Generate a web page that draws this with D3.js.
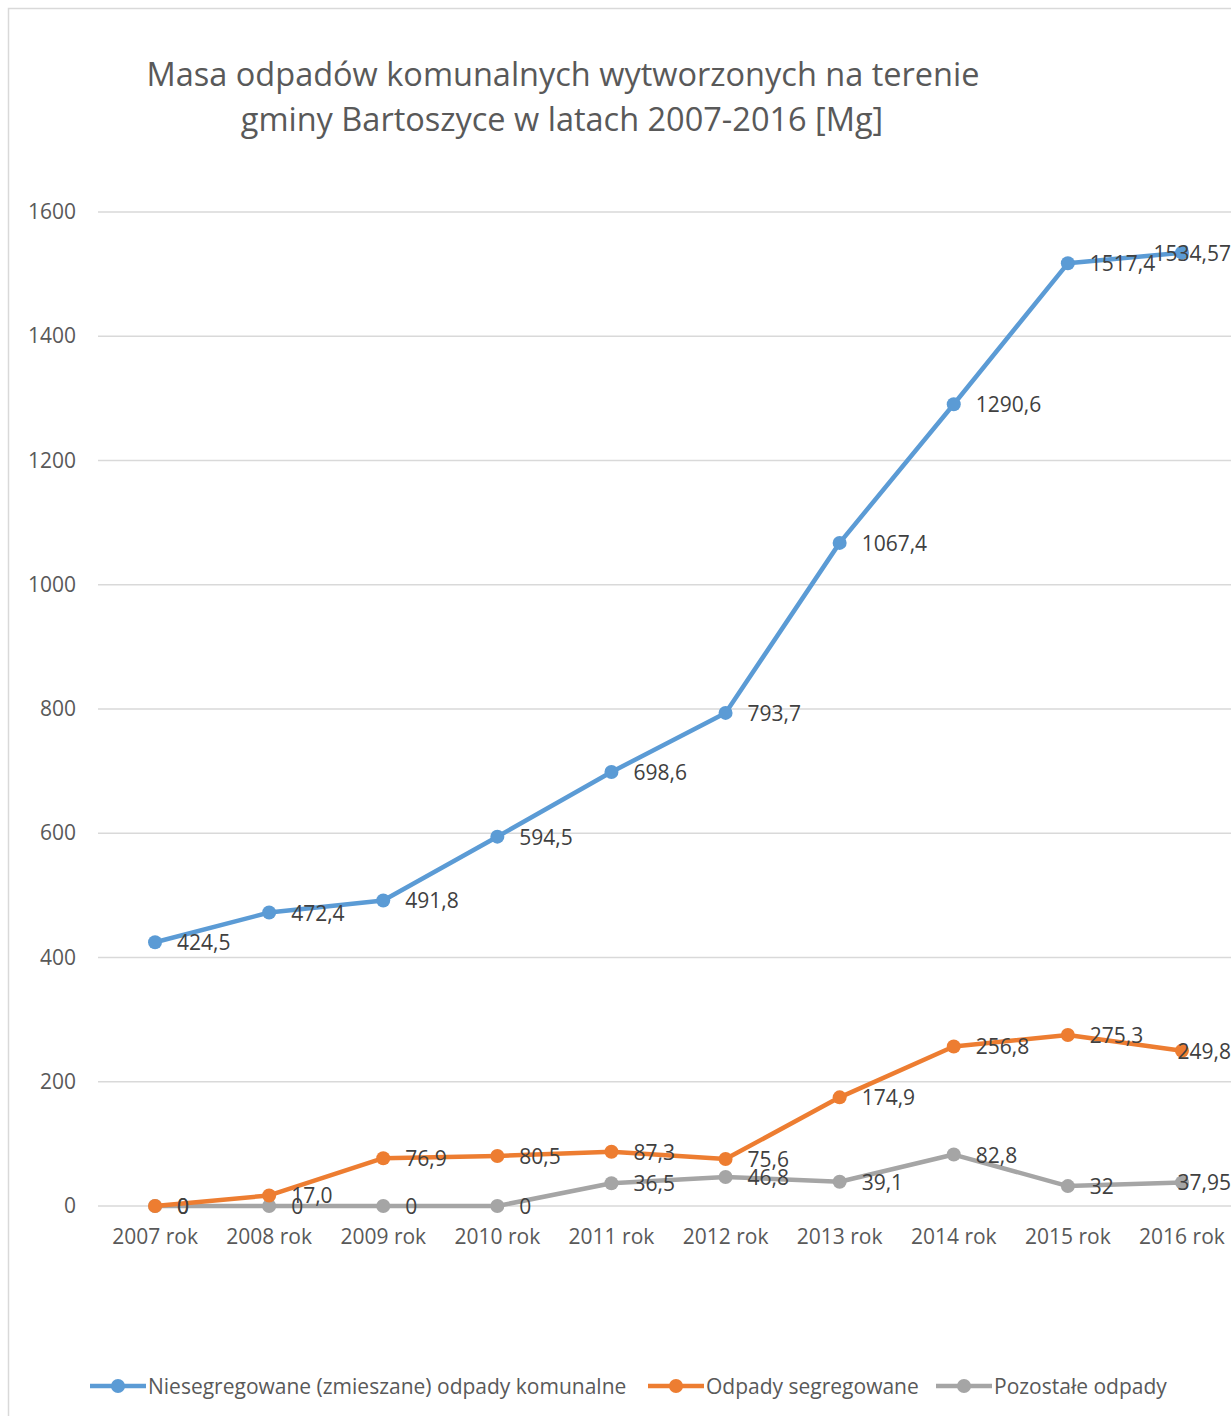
<!DOCTYPE html>
<html>
<head>
<meta charset="utf-8">
<script src="https://cdn.jsdelivr.net/npm/d3@7"></script>
<style>
  body { margin: 0; background: #fff; }
  svg { display: block; }
  text { font-family: "Open Sans", sans-serif; }
</style>
</head>
<body>
<svg></svg>
<script>
const width = 1231;
const height = 1416;

// data
const years = ["2007 rok", "2008 rok", "2009 rok", "2010 rok", "2011 rok",
               "2012 rok", "2013 rok", "2014 rok", "2015 rok", "2016 rok"];
const mixed = [424.5, 472.4, 491.8, 594.5, 698.6, 793.7, 1067.4, 1290.6, 1517.4, 1534.57];
const mixedLabels = ["424,5", "472,4", "491,8", "594,5", "698,6", "793,7", "1067,4", "1290,6", "1517,4", "1534,57"];
const sorted = [0, 17.0, 76.9, 80.5, 87.3, 75.6, 174.9, 256.8, 275.3, 249.8];
const sortedLabels = ["0", "17,0", "76,9", "80,5", "87,3", "75,6", "174,9", "256,8", "275,3", "249,8"];
const other = [0, 0, 0, 0, 36.5, 46.8, 39.1, 82.8, 32, 37.95];
const otherLabels = ["0", "0", "0", "0", "36,5", "46,8", "39,1", "82,8", "32", "37,95"];
const yTicks = [0, 200, 400, 600, 800, 1000, 1200, 1400, 1600];

const series = [
  { name: "Niesegregowane (zmieszane) odpady komunalne", values: mixed, labels: mixedLabels, color: "#5B9BD5" },
  { name: "Odpady segregowane", values: sorted, labels: sortedLabels, color: "#ED7D31" },
  { name: "Pozostałe odpady", values: other, labels: otherLabels, color: "#A5A5A5" }
];

const svg = d3.select("svg")
  .attr("width", width)
  .attr("height", height);

// chart border (picture is cropped at right)
svg.append("rect")
  .attr("x", 8.5).attr("y", 8.5)
  .attr("width", width + 20).attr("height", height + 20)
  .attr("fill", "#fff")
  .attr("stroke", "#d9d9d9")
  .attr("stroke-width", 1.5);

// title
const title = svg.append("text")
  .attr("text-anchor", "middle")
  .attr("fill", "#595959")
  .attr("font-size", "32.5px");
title.append("tspan").attr("x", 563).attr("y", 86).text("Masa odpadów komunalnych wytworzonych na terenie");
title.append("tspan").attr("x", 562).attr("y", 131).text("gminy Bartoszyce w latach 2007-2016 [Mg]");

const x = d3.scaleBand()
  .domain(years)
  .range([98, 98 + 114.1 * years.length]);

const y = d3.scaleLinear()
  .domain([0, 1600])
  .range([1206, 212]);

// gridlines
svg.append("g")
  .selectAll("line")
  .data(yTicks)
  .enter()
  .append("line")
  .attr("x1", 98).attr("x2", width)
  .attr("y1", d => y(d)).attr("y2", d => y(d))
  .attr("stroke", "#d9d9d9")
  .attr("stroke-width", 1.5);

// y axis labels
const yAxis = svg.append("g")
  .attr("transform", "translate(76,0)")
  .call(d3.axisLeft(y).tickValues(yTicks).tickFormat(d3.format("d")).tickSize(0).tickPadding(0));
yAxis.select(".domain").remove();
yAxis.selectAll("text")
  .attr("fill", "#595959")
  .attr("font-size", "21px")
  .attr("font-family", null);

// x axis labels
const xAxis = svg.append("g")
  .attr("transform", "translate(0,1206)")
  .call(d3.axisBottom(x).tickSize(0).tickPadding(23));
xAxis.select(".domain").remove();
xAxis.selectAll("text")
  .attr("fill", "#595959")
  .attr("font-size", "21px")
  .attr("font-family", null);

const cx = d => x(d) + x.bandwidth() / 2;

const line = d3.line()
  .x((d, i) => cx(years[i]))
  .y(d => y(d));

// draw in reverse so blue is on top
series.slice().reverse().forEach(s => {
  const g = svg.append("g");
  g.append("path")
    .attr("d", line(s.values))
    .attr("fill", "none")
    .attr("stroke", s.color)
    .attr("stroke-width", 4.5)
    .attr("stroke-linejoin", "round")
    .attr("stroke-linecap", "round");
  g.selectAll("circle")
    .data(s.values)
    .enter()
    .append("circle")
    .attr("cx", (d, i) => cx(years[i]))
    .attr("cy", d => y(d))
    .attr("r", 7)
    .attr("fill", s.color);
});

// data labels to the right of points, pushed back inside at the right edge
series.slice().reverse().forEach(s => {
  svg.append("g")
    .selectAll("text")
    .data(s.values)
    .enter()
    .append("text")
    .attr("y", d => y(d) + 8)
    .attr("fill", "#404040")
    .attr("font-size", "21px")
    .text((d, i) => s.labels[i])
    .attr("x", function(d, i) {
      const w = this.getComputedTextLength();
      return Math.min(cx(years[i]) + 22, width - w);
    });
});

// legend
const legendX = [90, 648, 936];
const legend = svg.append("g")
  .selectAll("g")
  .data(series)
  .enter()
  .append("g")
  .attr("transform", (d, i) => `translate(${legendX[i]},1386)`);
legend.append("line")
  .attr("x1", 0).attr("x2", 56)
  .attr("stroke", d => d.color)
  .attr("stroke-width", 4.5);
legend.append("circle")
  .attr("cx", 28).attr("r", 7)
  .attr("fill", d => d.color);
legend.append("text")
  .attr("x", 58).attr("y", 8)
  .attr("fill", "#595959")
  .attr("font-size", "21px")
  .text(d => d.name);
</script>
</body>
</html>
